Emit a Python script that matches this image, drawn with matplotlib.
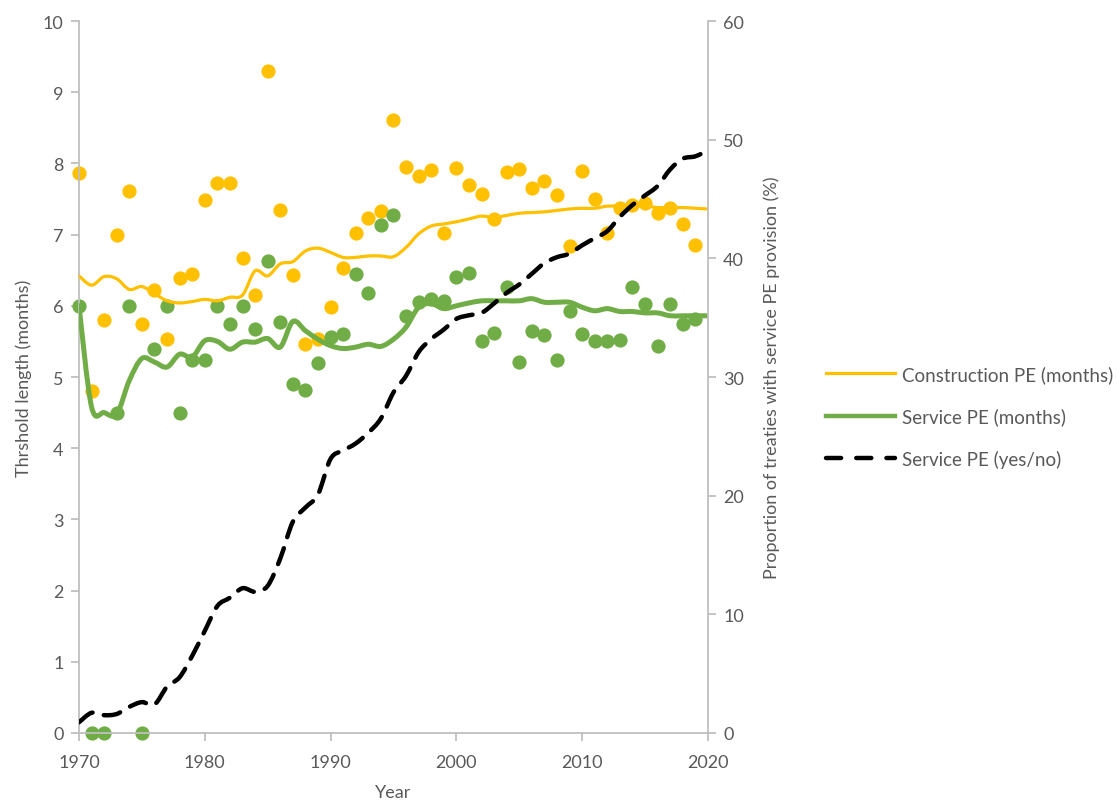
import numpy as np
import matplotlib
matplotlib.use("Agg")
import matplotlib.pyplot as plt
from matplotlib.path import Path
from matplotlib.patches import PathPatch
from matplotlib.lines import Line2D

plt.rcParams['font.family'] = ['Lato', 'DejaVu Sans']

# scatter data (points per treaty year)
con_years = list(range(1970, 2020))
con_pts = [7.87, 4.80, 5.80, 6.99, 7.61, 5.74, 6.22, 5.53, 6.39, 6.44,
           7.49, 7.72, 7.72, 6.67, 6.15, 9.30, 7.35, 6.43, 5.47, 5.54,
           5.99, 6.53, 7.02, 7.23, 7.33, 8.61, 7.95, 7.83, 7.91, 7.02,
           7.93, 7.69, 7.57, 7.22, 7.88, 7.92, 7.65, 7.76, 7.56, 6.84,
           7.90, 7.50, 7.02, 7.37, 7.41, 7.45, 7.30, 7.37, 7.15, 6.86]
srv_years = list(range(1970, 2020))
srv_pts = [6.00, 0.00, 0.00, 4.49, 6.00, 0.00, 5.40, 6.00, 4.49, 5.24,
           5.24, 6.00, 5.74, 6.00, 5.67, 6.63, 5.77, 4.90, 4.82, 5.20,
           5.56, 5.61, 6.44, 6.18, 7.13, 7.27, 5.86, 6.05, 6.10, 6.07,
           6.41, 6.46, 5.51, 5.62, 6.27, 5.21, 5.65, 5.59, 5.24, 5.93,
           5.61, 5.50, 5.51, 5.52, 6.27, 6.02, 5.44, 6.02, 5.75, 5.82]

# trend lines
line_years = list(range(1970, 2021))
con_line = [6.42, 6.29, 6.41, 6.38, 6.23, 6.27, 6.17, 6.07, 6.04, 6.06,
            6.09, 6.07, 6.12, 6.15, 6.49, 6.42, 6.59, 6.62, 6.77, 6.81,
            6.75, 6.68, 6.68, 6.70, 6.70, 6.69, 6.82, 7.01, 7.12, 7.15,
            7.18, 7.22, 7.26, 7.24, 7.27, 7.30, 7.31, 7.32, 7.34, 7.36,
            7.37, 7.37, 7.40, 7.40, 7.40, 7.40, 7.38, 7.38, 7.38, 7.37,
            7.36]
srv_line = [6.00, 4.58, 4.50, 4.48, 4.95, 5.26, 5.21, 5.14, 5.32, 5.28,
            5.51, 5.50, 5.39, 5.49, 5.49, 5.54, 5.42, 5.78, 5.65, 5.53,
            5.44, 5.40, 5.42, 5.46, 5.43, 5.53, 5.70, 5.98, 6.03, 5.96,
            6.00, 6.04, 6.07, 6.07, 6.07, 6.07, 6.10, 6.05, 6.05, 6.05,
            5.98, 5.93, 5.96, 5.92, 5.92, 5.90, 5.90, 5.86, 5.86, 5.86,
            5.86]
share_line = [0.9, 1.7, 1.5, 1.6, 2.2, 2.6, 2.4, 3.9, 4.7, 6.5,
              8.6, 10.7, 11.4, 12.2, 11.9, 12.4, 14.7, 17.8, 19.0, 20.1,
              23.1, 23.8, 24.4, 25.3, 26.5, 28.7, 30.1, 32.1, 33.2, 34.0,
              34.9, 35.2, 35.4, 36.2, 37.1, 37.8, 38.7, 39.6, 40.1, 40.4,
              41.1, 41.7, 42.3, 43.5, 44.5, 45.3, 46.1, 47.5, 48.4, 48.6,
              49.1]

orange = '#FFC000'
green = '#70AD47'
grey_txt = '#595959'
grey_ax = '#BFBFBF'


def smooth_path(x, y):
    # excel-like smoothed line drawn as bezier curves through the points
    x = np.asarray(x, float)
    y = np.asarray(y, float)
    verts = [(x[0], y[0])]
    codes = [Path.MOVETO]
    n = len(x)
    for i in range(n - 1):
        x0, y0 = (x[i - 1], y[i - 1]) if i > 0 else (x[i], y[i])
        x3, y3 = (x[i + 2], y[i + 2]) if i + 2 < n else (x[i + 1], y[i + 1])
        c1 = (x[i] + (x[i + 1] - x0) / 6, y[i] + (y[i + 1] - y0) / 6)
        c2 = (x[i + 1] - (x3 - x[i]) / 6, y[i + 1] - (y3 - y[i]) / 6)
        verts += [c1, c2, (x[i + 1], y[i + 1])]
        codes += [Path.CURVE4] * 3
    return Path(verts, codes)


fig = plt.figure(figsize=(11.17, 8.04), dpi=100)
ax = fig.add_axes([0.0707, 0.0871, 0.5631, 0.8855])
ax2 = ax.twinx()

ax.scatter(con_years, con_pts, s=105, color=orange, zorder=2, linewidths=0, clip_on=False)
ax.scatter(srv_years, srv_pts, s=105, color=green, zorder=2, linewidths=0, clip_on=False)
ax.add_patch(PathPatch(smooth_path(line_years, con_line), fill=False,
                       edgecolor=orange, lw=2.3, zorder=3, capstyle='round'))
ax.add_patch(PathPatch(smooth_path(line_years, srv_line), fill=False,
                       edgecolor=green, lw=3.6, zorder=3, capstyle='round'))
ax2.add_patch(PathPatch(smooth_path(line_years, share_line), fill=False,
                        edgecolor='black', lw=3.2, linestyle=(0, (3.8, 2.6)),
                        capstyle='round', zorder=4))

ax.set_xlim(1970, 2020)
ax.set_ylim(0, 10)
ax2.set_ylim(0, 60)
ax.set_xticks(np.arange(1970, 2021, 10))
ax.set_yticks(np.arange(0, 11, 1))
ax2.set_yticks(np.arange(0, 61, 10))

for a in (ax, ax2):
    for s in a.spines.values():
        s.set_color(grey_ax)
        s.set_linewidth(1.3)
    a.spines['top'].set_visible(False)
    a.tick_params(colors=grey_ax, labelcolor=grey_txt, labelsize=13,
                  length=6, width=1.3, pad=5)
ax.tick_params(axis='x', pad=9)
ax.spines['right'].set_visible(False)
ax2.spines['left'].set_visible(False)
ax2.spines['bottom'].set_visible(False)

ax.set_xlabel('Year', color=grey_txt, fontsize=13, labelpad=10)
ax.set_ylabel('Thrshold length (months)', color=grey_txt, fontsize=13, labelpad=8)
ax2.set_ylabel('Proportion of treaties with service PE provision (%)',
               color=grey_txt, fontsize=13, labelpad=14)

handles = [Line2D([], [], color=orange, lw=2.3),
           Line2D([], [], color=green, lw=3.2),
           Line2D([], [], color='black', lw=3.2, linestyle=(0, (3.4, 3.4)),
                  dash_capstyle='round')]
labels = ['Construction PE (months)', 'Service PE (months)', 'Service PE (yes/no)']
leg = fig.legend(handles, labels, loc='center left', bbox_to_anchor=(0.724, 0.481),
                 frameon=False, fontsize=13.5, handlelength=3.7, labelspacing=1.3,
                 handletextpad=0.35)
for t in leg.get_texts():
    t.set_color(grey_txt)

fig.savefig('out.png', dpi=100)
